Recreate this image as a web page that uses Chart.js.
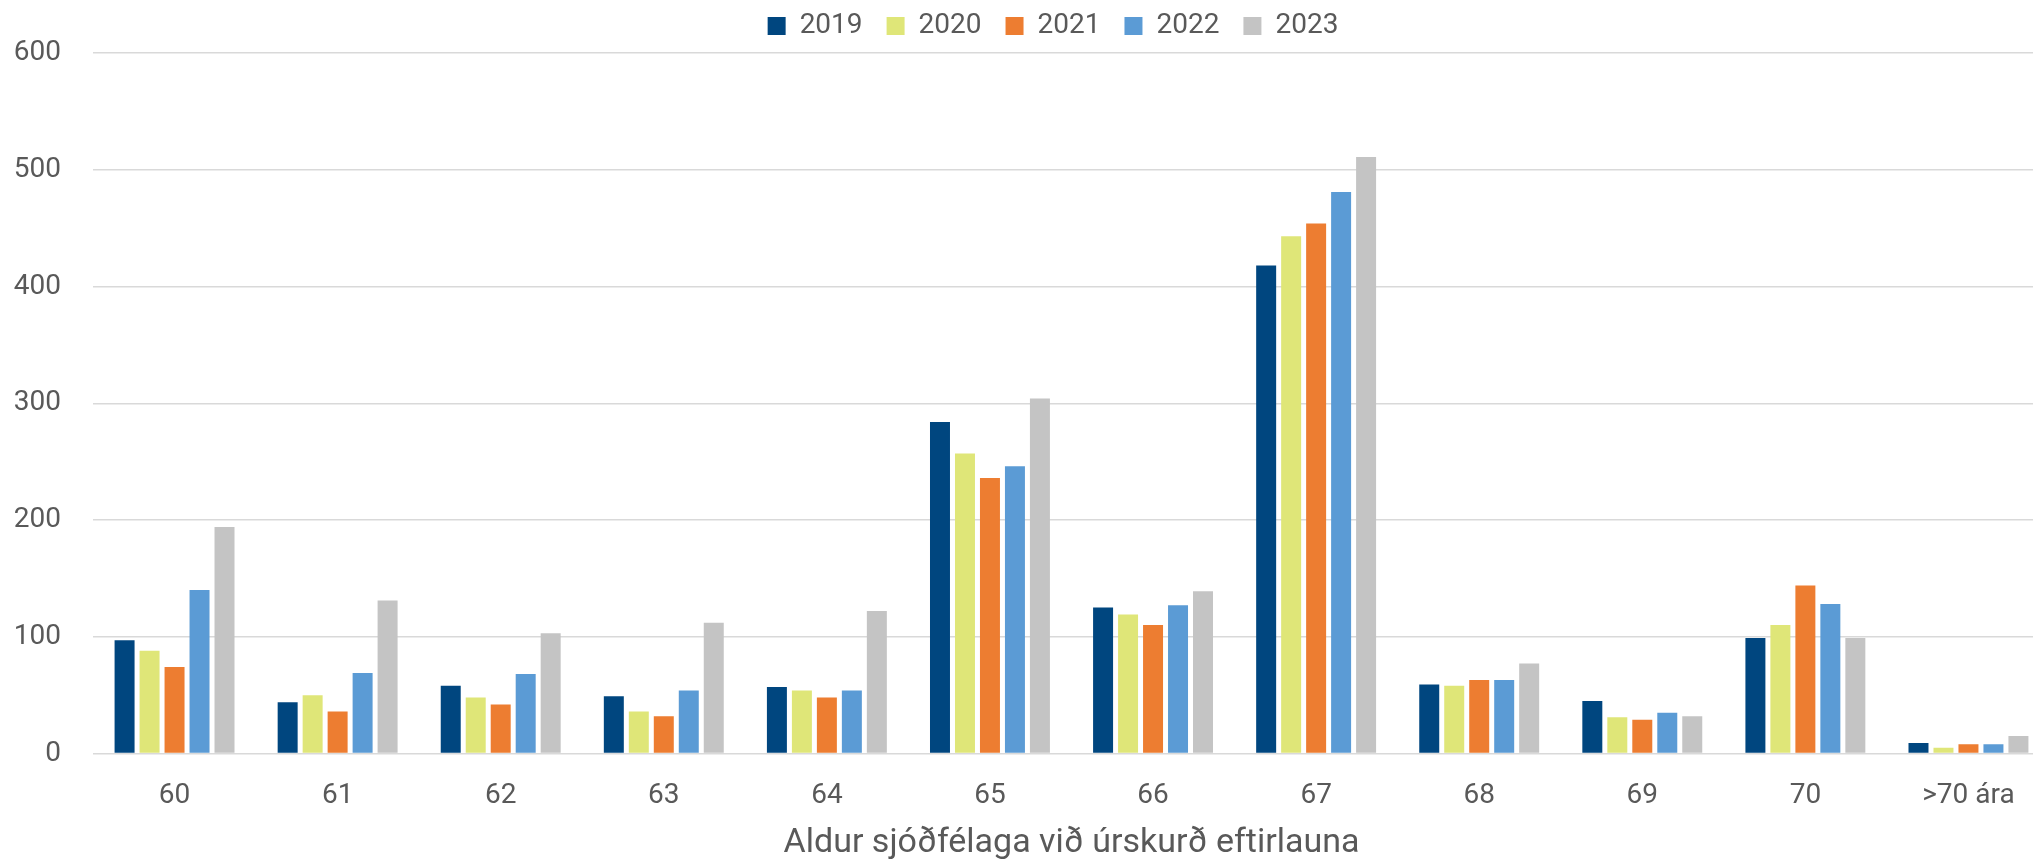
<!DOCTYPE html>
<html>
<head>
<meta charset="utf-8">
<script src="https://cdn.jsdelivr.net/npm/chart.js@4"></script>
<style>
  body { margin: 0; overflow: hidden; background: #fff; }
</style>
</head>
<body>
<canvas id="ageChart" width="2060" height="861"></canvas>
<script>
// Aldur sjóðfélaga við úrskurð eftirlauna, 2019-2023
const ageLabels = ["60", "61", "62", "63", "64", "65", "66", "67", "68", "69", "70", ">70 ára"];
const years = ["2019", "2020", "2021", "2022", "2023"];

const data2019 = [97, 44, 58, 49, 57, 284, 125, 418, 59, 45, 99, 9];
const data2020 = [88, 50, 48, 36, 54, 257, 119, 443, 58, 31, 110, 5];
const data2021 = [74, 36, 42, 32, 48, 236, 110, 454, 63, 29, 144, 8];
const data2022 = [140, 69, 68, 54, 54, 246, 127, 481, 63, 35, 128, 8];
const data2023 = [194, 131, 103, 112, 122, 304, 139, 511, 77, 32, 99, 15];

const yMax = 600;
const yStep = 100;

const yearColours = ["#00467f", "#dfe678", "#ed7d31", "#5b9bd5", "#c4c4c4"];
const allData = [data2019, data2020, data2021, data2022, data2023];

const textColour = "#595959";
const fontFamily = "Roboto, 'Liberation Sans', Arial, sans-serif";

// the legend sits a little right of the plot centre in the original
const legendShift = {
    id: "legendShift",
    afterLayout(chart) {
        chart.legend.left += 24;
        chart.legend.right += 24;
        chart.legend.top -= 3;
    }
};

new Chart(document.getElementById('ageChart'), {
    type: "bar",
    data: {
        labels: ageLabels,
        datasets: years.map((year, i) => ({
            label: year,
            data: allData[i],
            backgroundColor: yearColours[i],
            borderWidth: 0,
            categoryPercentage: 0.766,
            barPercentage: 0.8
        }))
    },
    plugins: [legendShift],
    options: {
        responsive: false,
        animation: false,
        layout: {
            padding: { top: -9, left: 8, right: 10, bottom: 0 }
        },
        plugins: {
            legend: {
                position: "top",
                labels: {
                    boxWidth: 18,
                    boxHeight: 18,
                    padding: 24,
                    color: textColour,
                    font: { family: fontFamily, size: 28 }
                }
            },
            title: { display: false },
            tooltip: { enabled: false }
        },
        scales: {
            x: {
                afterFit: scale => {
                    scale.height = 107.5;
                },
                grid: { display: false, drawTicks: false },
                border: { display: false },
                ticks: {
                    color: textColour,
                    padding: 26,
                    font: { family: fontFamily, size: 28 }
                },
                title: {
                    display: true,
                    text: "Aldur sjóðfélaga við úrskurð eftirlauna",
                    color: textColour,
                    font: { family: fontFamily, size: 34, lineHeight: 1 },
                    padding: { top: 0, bottom: 1 }
                }
            },
            y: {
                min: 0,
                max: yMax,
                afterFit: scale => {
                    scale.width = 85;
                },
                grid: { color: "#d9d9d9", lineWidth: 1.5, drawTicks: false },
                border: { display: false },
                ticks: {
                    stepSize: yStep,
                    color: textColour,
                    padding: 32,
                    font: { family: fontFamily, size: 28 }
                }
            }
        }
    }
});
</script>
</body>
</html>
